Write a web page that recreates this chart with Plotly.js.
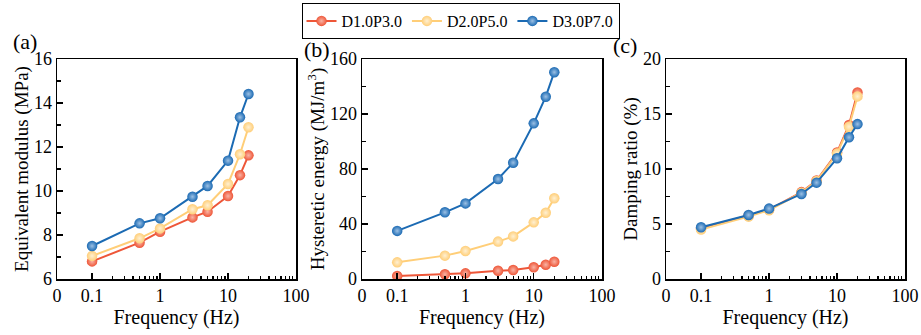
<!DOCTYPE html>
<html>
<head>
<meta charset="utf-8">
<script src="https://cdn.plot.ly/plotly-3.0.1.min.js"></script>
<style>html,body{margin:0;padding:0;background:#fff}#chart{width:921px;height:335px}</style>
</head>
<body>
<div id="chart"></div>
<script>
// ---- data ----
const freq = [0.1, 0.5, 1, 3, 5, 10, 15, 20];
const seriesNames = ['D1.0P3.0', 'D2.0P5.0', 'D3.0P7.0'];

// (a) Equivalent modulus (MPa)
const modD1 = [6.8, 7.65, 8.15, 8.8, 9.06, 9.77, 10.72, 11.62];
const modD2 = [7.05, 7.85, 8.3, 9.17, 9.35, 10.32, 11.67, 12.9];
const modD3 = [7.5, 8.53, 8.76, 9.74, 10.23, 11.38, 13.35, 14.41];

// (b) Hysteretic energy (MJ/m3)
const engD1 = [2.2, 3.4, 4.1, 6.0, 6.5, 8.5, 10.4, 12.6];
const engD2 = [12.1, 17.0, 20.4, 27.2, 31.0, 41.2, 48.2, 58.7];
const engD3 = [35.0, 48.5, 55.0, 72.7, 84.6, 113.2, 132.6, 150.4];

// (c) Damping ratio (%)
const dmpD1 = [4.6, 5.75, 6.3, 7.9, 8.95, 11.5, 14.0, 16.95];
const dmpD2 = [4.5, 5.67, 6.25, 7.85, 8.9, 11.4, 13.85, 16.6];
const dmpD3 = [4.7, 5.82, 6.4, 7.73, 8.76, 10.97, 12.88, 14.08];

const xTickVals = [0.0305, 0.1, 1, 10, 100];
const xTickText = ['0', '0.1', '1', '10', '100'];

// ---- styling ----
const colors = ['#EE5638', '#FFCE78', '#1B6AB3'];
const tints = ['#F9B3A4', '#FFF0D2', '#9CC0E4'];
const font = 'Liberation Serif';

const panels = [
  {vals: [modD1, modD2, modD3], xa: 'x', ya: 'y'},
  {vals: [engD1, engD2, engD3], xa: 'x2', ya: 'y2'},
  {vals: [dmpD1, dmpD2, dmpD3], xa: 'x3', ya: 'y3'}
];

const traces = [];
panels.forEach((p, pi) => {
  p.vals.forEach((v, si) => {
    traces.push({
      type: 'scatter', mode: 'lines+markers',
      x: freq, y: v, xaxis: p.xa, yaxis: p.ya,
      name: seriesNames[si], legendgroup: seriesNames[si],
      showlegend: pi === 0,
      line: {color: colors[si], width: 2},
      marker: {color: colors[si], size: 10.5,
               gradient: {type: 'radial', color: tints[si]},
               line: {width: 0}}
    });
  });
});

const minorX = [0.2,0.3,0.4,0.5,0.6,0.7,0.8,0.9,2,3,4,5,6,7,8,9,20,30,40,50,60,70,80,90];

function xAxis(domain, anchor) {
  return {
    type: 'log', domain: domain, anchor: anchor,
    range: [Math.log10(0.0305), 2],
    tickmode: 'array', tickvals: xTickVals, ticktext: xTickText,
    ticks: 'inside', ticklen: 6, tickwidth: 1.5, tickcolor: '#000',
    minor: {tickmode: 'array', tickvals: minorX, ticks: 'inside', ticklen: 3.5, tickwidth: 1.2, tickcolor: '#000'},
    showline: true, linecolor: '#000', linewidth: 1.5, mirror: true,
    showgrid: false, zeroline: false,
    tickfont: {family: font, size: 18, color: '#000'},
    title: {text: 'Frequency (Hz)', font: {family: font, size: 20, color: '#000'}, standoff: 4},
    automargin: false
  };
}
function yAxis(domain, anchor, range, dtick, mdtick, title) {
  return {
    domain: domain, anchor: anchor, range: range, dtick: dtick, tick0: 0,
    ticks: 'inside', ticklen: 6, tickwidth: 1.5, tickcolor: '#000',
    minor: {dtick: mdtick, ticks: 'inside', ticklen: 3.5, tickwidth: 1.2, tickcolor: '#000'},
    showline: true, linecolor: '#000', linewidth: 1.5, mirror: true,
    showgrid: false, zeroline: false,
    tickfont: {family: font, size: 18, color: '#000'},
    title: {text: title, font: {family: font, size: 19, color: '#000'}, standoff: 0},
    automargin: false
  };
}

const W = 921, H = 335;
const yd = [1 - 279 / H, 1 - 59 / H];
const layout = {
  width: W, height: H,
  margin: {l: 0, r: 0, t: 0, b: 0},
  paper_bgcolor: '#fff', plot_bgcolor: '#fff',
  font: {family: font, color: '#000'},
  xaxis: xAxis([57 / W, 296 / W], 'y'),
  xaxis2: xAxis([362 / W, 602 / W], 'y2'),
  xaxis3: xAxis([666 / W, 905 / W], 'y3'),
  yaxis: yAxis(yd, 'x', [6, 16], 2, 1, 'Equivalent modulus (MPa)'),
  yaxis2: yAxis(yd, 'x2', [0, 160], 40, 20, 'Hysteretic energy (MJ/m<sup>3</sup>)'),
  yaxis3: yAxis(yd, 'x3', [0, 20], 5, 2.5, 'Damping ratio (%)'),
  legend: {
    orientation: 'h', x: 0.5, xanchor: 'center', y: 1 - 3 / H, yanchor: 'top',
    bordercolor: '#000', borderwidth: 1, bgcolor: '#fff',
    font: {family: font, size: 16, color: '#000'},
    tracegroupgap: 0, itemwidth: 30
  },
  annotations: [
    {text: '(a)', x: 11 / W, y: 1 - 42 / H, xref: 'paper', yref: 'paper', xanchor: 'left', yanchor: 'middle', showarrow: false, font: {family: font, size: 22, color: '#000'}},
    {text: '(b)', x: 302 / W, y: 1 - 49 / H, xref: 'paper', yref: 'paper', xanchor: 'left', yanchor: 'middle', showarrow: false, font: {family: font, size: 22, color: '#000'}},
    {text: '(c)', x: 611 / W, y: 1 - 46 / H, xref: 'paper', yref: 'paper', xanchor: 'left', yanchor: 'middle', showarrow: false, font: {family: font, size: 22, color: '#000'}}
  ]
};

Plotly.newPlot('chart', traces, layout, {displayModeBar: false, staticPlot: true});
</script>
</body>
</html>
